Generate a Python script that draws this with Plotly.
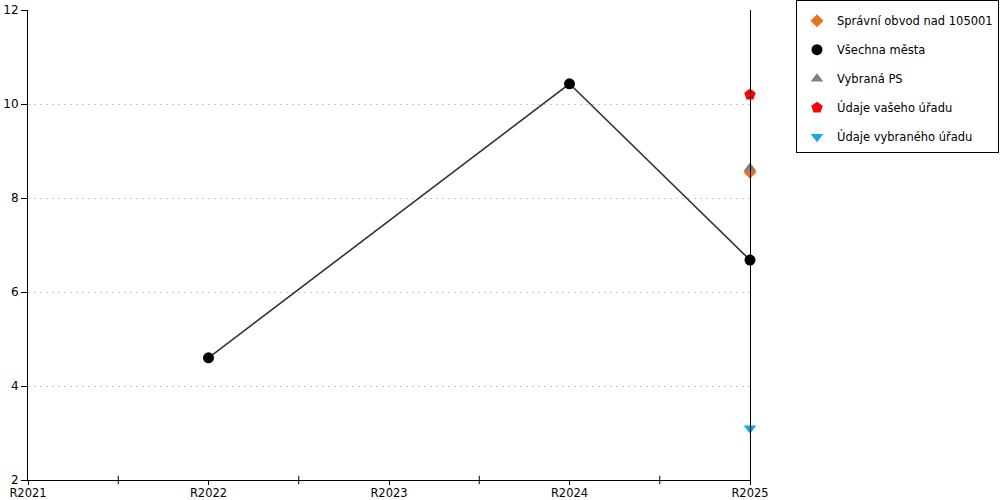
import plotly.graph_objects as go

categories = ["R2021", "R2022", "R2023", "R2024", "R2025"]
spravni_obvod = [None, None, None, None, 8.55]
vsechna_mesta = [None, 4.6, None, 10.43, 6.68]
vybrana_ps = [None, None, None, None, 8.64]
vas_urad = [None, None, None, None, 10.2]
vybrany_urad = [None, None, None, None, 3.1]
y_ticks = [2, 4, 6, 8, 10, 12]

FONT = "DejaVu Sans"

fig = go.Figure()
fig.add_trace(go.Scatter(x=categories, y=vsechna_mesta, mode="lines", showlegend=False,
                         connectgaps=True, line=dict(color="#333333", width=1.6), cliponaxis=False,
                         hoverinfo="skip"))
fig.add_trace(go.Scatter(x=categories, y=spravni_obvod, mode="markers", name="Správní obvod nad 105001",
                         legendgroup="a", marker=dict(symbol="diamond", size=10, color="#E8731C"),
                         cliponaxis=False))
fig.add_trace(go.Scatter(x=categories, y=vsechna_mesta, mode="markers", name="Všechna města",
                         legendgroup="b", marker=dict(symbol="circle", size=11, color="#000000"),
                         cliponaxis=False))
fig.add_trace(go.Scatter(x=categories, y=vybrana_ps, mode="markers", name="Vybraná PS",
                         legendgroup="c", marker=dict(symbol="triangle-up", size=11, color="#808080"),
                         cliponaxis=False))
fig.add_trace(go.Scatter(x=categories, y=vas_urad, mode="markers", name="Údaje vašeho úřadu",
                         legendgroup="d", marker=dict(symbol="pentagon", size=12, color="#FF0000"),
                         cliponaxis=False))
fig.add_trace(go.Scatter(x=categories, y=vybrany_urad, mode="markers", name="Údaje vybraného úřadu",
                         legendgroup="e", marker=dict(symbol="triangle-down", size=11, color="#1AA6E4"),
                         cliponaxis=False))

# midpoint tick marks between categories
shapes = []
for i in range(len(categories) - 1):
    shapes.append(dict(type="line", xref="x", yref="paper", x0=i + 0.5, x1=i + 0.5, y0=-0.009, y1=0.009,
                       line=dict(color="black", width=1)))

fig.update_layout(
    width=1000, height=500,
    margin=dict(l=28, r=250, t=10, b=20, autoexpand=False),
    paper_bgcolor="white", plot_bgcolor="white",
    font=dict(family=FONT, size=12, color="black"),
    showlegend=True,
    legend=dict(x=0.999, xref="container", y=1.0, yref="container", xanchor="right", yanchor="top",
                bordercolor="black", borderwidth=1, traceorder="grouped",
                title=dict(text=" ", font=dict(size=4)),
                font=dict(family=FONT, size=11.5), tracegroupgap=10),
    shapes=shapes,
    xaxis=dict(type="category", categoryorder="array", categoryarray=categories, range=[0, 4],
               showgrid=False, showline=True, linecolor="black", linewidth=1, automargin=False,
               ticks="outside", ticklen=4, tickcolor="black", zeroline=False, ticklabelstandoff=-2,
               ticklabeloverflow="allow", tickfont=dict(family=FONT, size=11.5)),
    yaxis=dict(range=[2, 12], tickvals=y_ticks, showgrid=True, gridcolor="#C8C8C8", griddash="2px,4px",
               showline=True, linecolor="black", linewidth=1, mirror=True, automargin=False,
               ticks="outside", ticklen=6, tickcolor="black", zeroline=False,
               ticklabeloverflow="allow", tickfont=dict(family=FONT, size=12)),
)

fig.write_html("out.html", config={"displayModeBar": False},
               post_script="document.body.style.margin='0px';")
